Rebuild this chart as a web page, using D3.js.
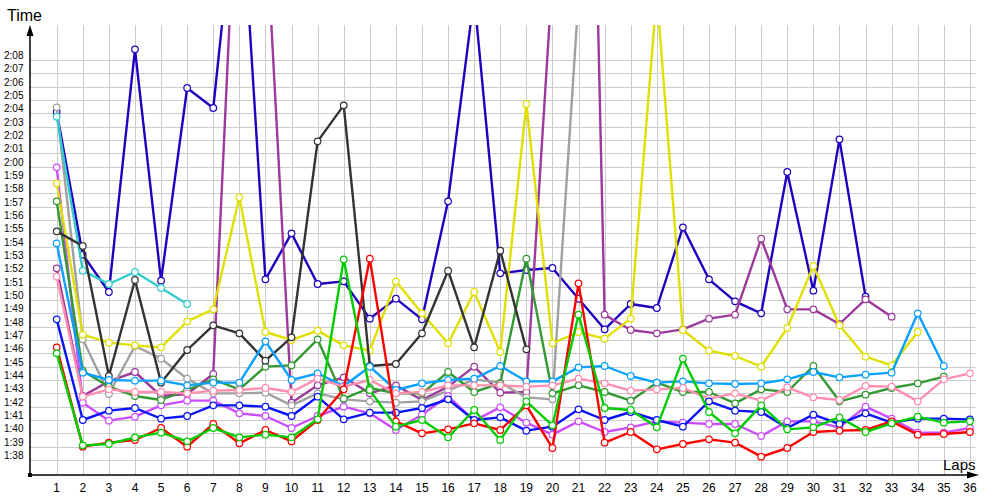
<!DOCTYPE html>
<html><head><meta charset="utf-8">
<script src="https://cdn.jsdelivr.net/npm/d3@7/dist/d3.min.js"></script>
<style>body{margin:0;background:#fff}svg{display:block}</style>
</head><body>
<svg id="c" width="1000" height="500"></svg>
<script>
// Lap numbers
const laps = d3.range(1, 37);
// Y tick values (seconds): 1:38 .. 2:08
const yTicks = d3.range(98, 129);

// Lap times in seconds, one array per driver
const darkBlue = [124.1,113.4,110.6,128.8,111.45,125.9,124.4,143,111.55,115.0,111.2,111.4,108.6,110.1,108.55,117.4,132.8,112.0,112.25,112.4,110.1,107.8,109.7,109.4,115.45,111.55,109.9,109.0,119.6,110.7,122.05,110.25];
const purple = [112.375,102.8,103.9,104.6,102.8,102.95,104.45,146.8,139,102.3,103.6,104.2,103.0,103.6,102.5,103.5,105.0,103.05,103.1,134.3,196.4,108.9,107.75,107.5,107.8,108.6,108.9,114.6,109.3,109.3,108.2,110.05,108.75];
const gray = [124.45,107.05,102.95,106.55,105.6,104.1,103.0,103.0,103.05,102.1,103.0,102.55,102.4,102.3,102.4,103.2,104.05,103.8,102.7,102.55,132.7];
const cyan = [123.75,112.2,111.2,112.1,110.9,109.7];
const magenta = [119.95,102.3,100.95,101.25,102.1,102.45,102.45,101.5,101.3,100.4,101.3,102.0,101.5,100.25,101.4,102.8,100.95,101.95,100.8,99.9,100.9,100.1,100.45,100.9,100.8,100.7,100.7,99.8,100.9,100.9,100.45,102.0,101.1,100.05,100.05,100.4];
const yellow = [118.75,107.4,106.8,106.6,106.45,108.4,109.3,117.7,107.6,107.0,107.7,106.6,106.2,111.4,109.0,106.75,110.6,106.1,124.7,106.75,107.6,107.1,108.6,133,107.75,106.2,105.8,105.0,107.9,112.55,108.1,105.75,105.1,107.6];
const darkGreen = [117.4,104.7,103.5,102.8,102.5,103.25,104.05,103.3,105.0,105.1,107.05,102.6,103.4,103.0,103.0,104.6,103.1,103.75,113.1,103.0,103.6,103.1,102.45,103.8,103.1,103.1,102.25,103.3,103.1,105.05,102.4,102.9,103.4,103.75,104.25];
const black = [115.15,114.05,104.3,111.5,103.8,106.25,108.1,107.5,105.45,107.2,121.9,124.6,105.05,105.2,107.5,112.2,106.45,113.7,106.3];
const lightBlue = [114.25,104.55,104.0,103.95,103.95,103.6,103.8,103.8,106.9,104.0,104.5,103.55,105.0,103.25,103.75,104.0,104.1,105.05,103.9,103.9,104.95,105.05,104.3,103.8,103.9,103.75,103.7,103.75,104.05,104.6,104.2,104.4,104.55,109.0,105.05];
const pink = [111.75,102.75,103.3,103.1,103.1,103.0,103.2,103.25,103.4,103.1,104.1,103.5,104.0,103.0,103.1,103.6,103.6,103.6,103.5,103.6,104.1,103.75,103.2,103.3,103.4,102.6,103.0,102.45,103.45,102.7,102.5,103.55,103.5,102.4,104.05,104.5];
const blue = [108.55,101.0,101.7,101.9,101.1,101.3,102.1,102.1,102.0,101.3,102.75,101.05,101.55,101.55,101.9,102.55,101.0,101.2,100.2,100.5,101.8,101.0,101.6,101.0,100.5,102.4,101.7,101.6,100.4,101.4,100.7,101.5,100.8,101.1,101.1,101.05];
const red = [106.45,99.0,99.3,99.5,100.4,99.0,100.7,99.25,100.25,99.4,101.0,103.3,113.1,100.9,100.0,100.3,100.75,100.25,102.1,98.9,111.25,99.3,100.1,98.8,99.2,99.55,99.3,98.25,98.9,100.1,100.2,100.25,100.9,99.9,99.95,100.1];
const green = [106.0,99.1,99.2,99.7,100.05,99.4,100.4,99.7,99.9,99.7,101.05,113.05,103.25,100.5,101.0,99.7,101.75,99.5,102.4,100.6,108.9,101.9,101.75,100.45,105.6,101.6,100.0,102.1,100.3,100.45,101.2,100.1,100.75,101.25,100.8,100.9];

const series = [
  {values: darkBlue, color: "#1e00c0"},
  {values: purple, color: "#9b3a9b"},
  {values: gray, color: "#a0a0a0"},
  {values: cyan, color: "#33cccc"},
  {values: magenta, color: "#cc4cff"},
  {values: yellow, color: "#e0e000"},
  {values: darkGreen, color: "#339933"},
  {values: black, color: "#333333"},
  {values: lightBlue, color: "#0aa0ff"},
  {values: pink, color: "#ff8fb0"},
  {values: blue, color: "#0a14f5"},
  {values: red, color: "#ff0000"},
  {values: green, color: "#00cc00"}
];

const svg = d3.select("#c");
const x = d3.scaleLinear().domain([1, 36]).range([56.7, 969.9]);
const y = d3.scaleLinear().domain([98, 128]).range([460, 60]);
const pLeft = 30, pTop = 25, pBottom = 475, pRight = 976;

const fmt = s => Math.floor(s / 60) + ":" + String(Math.round(s % 60)).padStart(2, "0");

// grid
const grid = svg.append("g").attr("stroke", "#cccccc").attr("stroke-width", 1);
grid.selectAll("line.h").data(yTicks).join("line")
  .attr("x1", pLeft).attr("x2", pRight)
  .attr("y1", d => Math.round(y(d)) + 0.5).attr("y2", d => Math.round(y(d)) + 0.5);
grid.selectAll("line.v").data(laps).join("line")
  .attr("x1", d => Math.round(x(d)) + 0.5).attr("x2", d => Math.round(x(d)) + 0.5)
  .attr("y1", pTop).attr("y2", pBottom);

// y tick labels
svg.append("g").selectAll("text").data(yTicks).join("text")
  .attr("x", 4).attr("y", d => Math.round(y(d)) - 1)
  .attr("font-family", "Liberation Sans, Arial, sans-serif").attr("font-size", 10)
  .attr("fill", "#000").text(fmt);

// x tick labels
svg.append("g").selectAll("text").data(laps).join("text")
  .attr("x", d => x(d)).attr("y", 492).attr("text-anchor", "middle")
  .attr("font-family", "Liberation Sans, Arial, sans-serif").attr("font-size", 12)
  .attr("fill", "#000").text(d => d);

// clip
svg.append("defs").append("clipPath").attr("id", "clip")
  .append("rect").attr("x", pLeft).attr("y", pTop).attr("width", pRight - pLeft + 10).attr("height", pBottom - pTop);

const plot = svg.append("g").attr("clip-path", "url(#clip)");
const line = d3.line().x((d, i) => x(i + 1)).y(d => y(d));
series.forEach(s => {
  const g = plot.append("g");
  g.append("path").attr("d", line(s.values)).attr("fill", "none")
    .attr("stroke", s.color).attr("stroke-width", 2.4).attr("stroke-linejoin", "round");
  g.selectAll("circle").data(s.values).join("circle")
    .attr("cx", (d, i) => x(i + 1)).attr("cy", d => y(d)).attr("r", 3.3)
    .attr("fill", "#fff").attr("stroke", s.color).attr("stroke-width", 1.2);
});

// axes
const ax = svg.append("g");
ax.append("line").attr("x1", pLeft).attr("x2", 970).attr("y1", pBottom).attr("y2", pBottom)
  .attr("stroke", "#000").attr("stroke-width", 1.5);
ax.append("line").attr("x1", pLeft).attr("x2", pLeft).attr("y1", pBottom).attr("y2", 33)
  .attr("stroke", "#000").attr("stroke-width", 1.5);
ax.append("path").attr("d", `M${pLeft},${pTop} L${pLeft - 3.5},${pTop + 11} L${pLeft + 3.5},${pTop + 11} Z`).attr("fill", "#000");
ax.append("path").attr("d", `M979,${pBottom} L967,${pBottom - 3.5} L967,${pBottom + 3.5} Z`).attr("fill", "#000");
ax.append("rect").attr("x", pLeft - 2).attr("y", pBottom - 2).attr("width", 4).attr("height", 4).attr("fill", "#000");

svg.append("text").attr("x", 7).attr("y", 21).attr("font-family", "Liberation Sans, Arial, sans-serif")
  .attr("font-size", 16).attr("fill", "#000").text("Time");
svg.append("text").attr("x", 943).attr("y", 470).attr("font-family", "Liberation Sans, Arial, sans-serif")
  .attr("font-size", 15).attr("fill", "#000").text("Laps");
</script>
</body></html>
